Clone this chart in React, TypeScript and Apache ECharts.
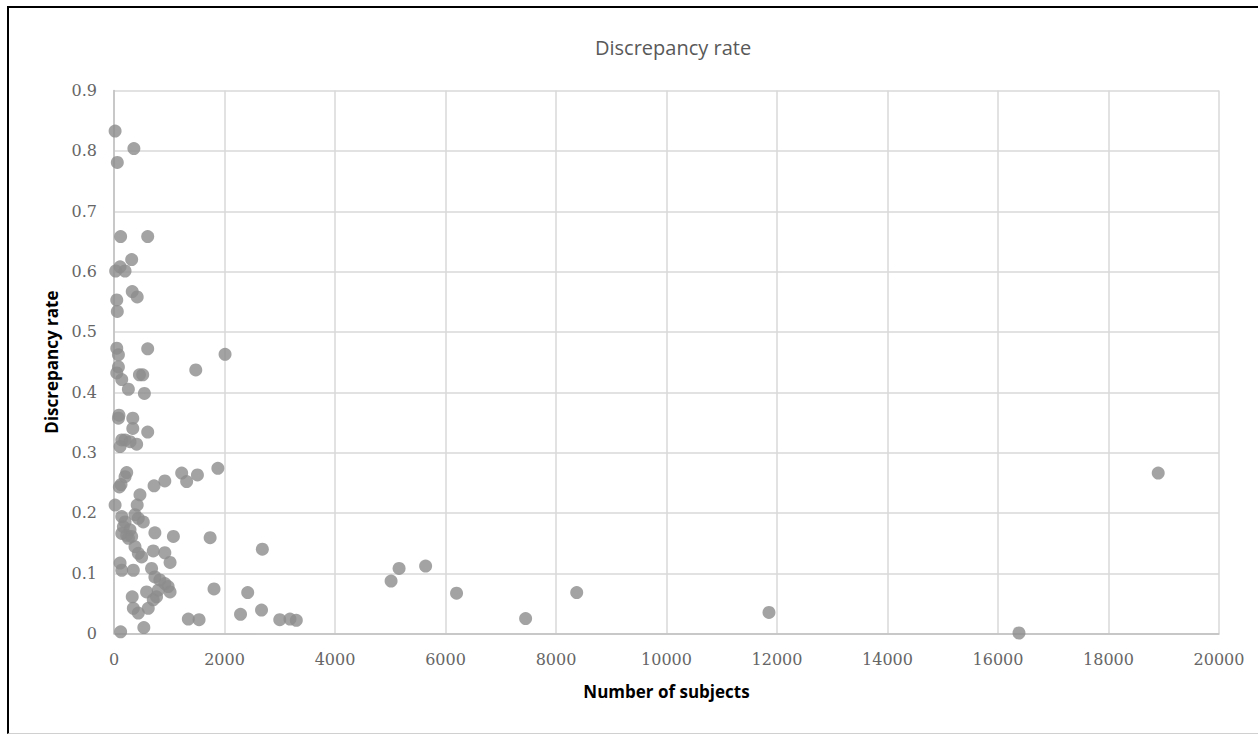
import React, { useEffect, useRef } from "react";
import * as echarts from "echarts";

const chartTitle = "Discrepancy rate";
const xAxisName = "Number of subjects";
const yAxisName = "Discrepancy rate";

const subjects = [
  20, 360, 60, 120, 610, 320, 110, 30, 200, 330, 420, 50, 60, 50, 610, 80, 2010, 80, 1480, 50,
  460, 520, 140, 260, 550, 90, 80, 340, 340, 610, 140, 200, 290, 410, 110, 1880, 230, 200, 1225, 1510,
  1315, 127, 97, 920, 725, 470, 20, 420, 140, 200, 170, 380, 440, 530, 290, 230, 320, 740, 1075, 1740,
  2685, 380, 440, 500, 710, 920, 1015, 110, 140, 350, 680, 740, 830, 920, 1015, 1810, 2420, 330, 590, 770,
  710, 350, 440, 620, 2290, 2670, 1345, 1540, 3000, 3185, 3300, 540, 120, 5015, 5160, 5640, 6200, 7450, 8375, 11855,
  16380, 18900, 140, 980, 800, 260,
];

const rates = [
  0.833, 0.804, 0.781, 0.658, 0.658, 0.62, 0.608, 0.601, 0.601, 0.567, 0.558, 0.553, 0.534, 0.473, 0.472, 0.462, 0.463, 0.442, 0.437, 0.432,
  0.429, 0.429, 0.421, 0.405, 0.398, 0.362, 0.357, 0.357, 0.34, 0.334, 0.321, 0.321, 0.318, 0.314, 0.31, 0.274, 0.267, 0.26, 0.266, 0.263,
  0.252, 0.247, 0.243, 0.253, 0.245, 0.23, 0.213, 0.213, 0.194, 0.185, 0.177, 0.197, 0.191, 0.185, 0.172, 0.163, 0.161, 0.167, 0.161, 0.159,
  0.14, 0.144, 0.133, 0.127, 0.137, 0.134, 0.118, 0.117, 0.105, 0.105, 0.108, 0.094, 0.089, 0.083, 0.069, 0.074, 0.068, 0.061, 0.069, 0.061,
  0.056, 0.042, 0.034, 0.042, 0.032, 0.039, 0.024, 0.023, 0.023, 0.024, 0.022, 0.01, 0.003, 0.087, 0.108, 0.112, 0.067, 0.025, 0.068, 0.035,
  0.001, 0.266, 0.166, 0.078, 0.072, 0.158,
];

const xTicks = { min: 0, max: 20000, interval: 2000 };
const yTicks = { min: 0, max: 0.9, interval: 0.1 };

export default function App() {
  const ref = useRef<HTMLDivElement>(null);

  useEffect(() => {
    if (!ref.current) return;
    const chart = echarts.init(ref.current, null, { renderer: "svg" });
    const points = subjects.map((x, i) => [x, rates[i]]);
    const tickFont = {
      fontFamily: "DejaVu Serif",
      fontSize: 16,
      color: "#666666",
    };
    const nameFont = {
      fontFamily: "Open Sans",
      fontSize: 17,
      fontWeight: "bold",
      color: "#000000",
    };
    chart.setOption({
      animation: false,
      backgroundColor: "#ffffff",
      title: {
        text: chartTitle,
        left: 581,
        top: 24,
        textStyle: {
          fontFamily: "Open Sans",
          fontSize: 20,
          fontWeight: "normal",
          color: "#595959",
        },
      },
      grid: { left: 105, right: 39, top: 82.6, bottom: 98.4, containLabel: false },
      xAxis: {
        type: "value",
        min: xTicks.min,
        max: xTicks.max,
        interval: xTicks.interval,
        name: xAxisName,
        nameLocation: "middle",
        nameGap: 49,
        nameTextStyle: nameFont,
        axisLine: { show: true, lineStyle: { color: "#bfbfbf", width: 1.5 } },
        axisTick: { show: false },
        axisLabel: { ...tickFont, margin: 18, formatter: (v: number) => String(v) },
        splitLine: { show: true, lineStyle: { color: "#d9d9d9", width: 1.5 } },
      },
      yAxis: {
        type: "value",
        min: yTicks.min,
        max: yTicks.max,
        interval: yTicks.interval,
        name: yAxisName,
        nameLocation: "middle",
        nameGap: 54,
        nameTextStyle: nameFont,
        axisLine: { show: true, lineStyle: { color: "#bfbfbf", width: 1.5 } },
        axisTick: { show: false },
        axisLabel: {
          ...tickFont,
          margin: 17,
          formatter: (v: number) => String(Math.round(v * 10) / 10),
        },
        splitLine: { show: true, lineStyle: { color: "#d9d9d9", width: 1.5 } },
      },
      series: [
        {
          type: "scatter",
          data: points,
          symbol: "circle",
          symbolSize: 13,
          itemStyle: { color: "#8c8c8c" },
        },
      ],
    });
    return () => chart.dispose();
  }, []);

  return (
    <div
      style={{
        position: "absolute",
        left: 7,
        top: 6,
        width: 1249,
        height: 725,
        borderTop: "2px solid #000",
        borderLeft: "2px solid #000",
        borderBottom: "1px solid #d0d0d0",
        background: "#fff",
      }}
    >
      <div ref={ref} style={{ width: 1249, height: 724 }} />
    </div>
  );
}
